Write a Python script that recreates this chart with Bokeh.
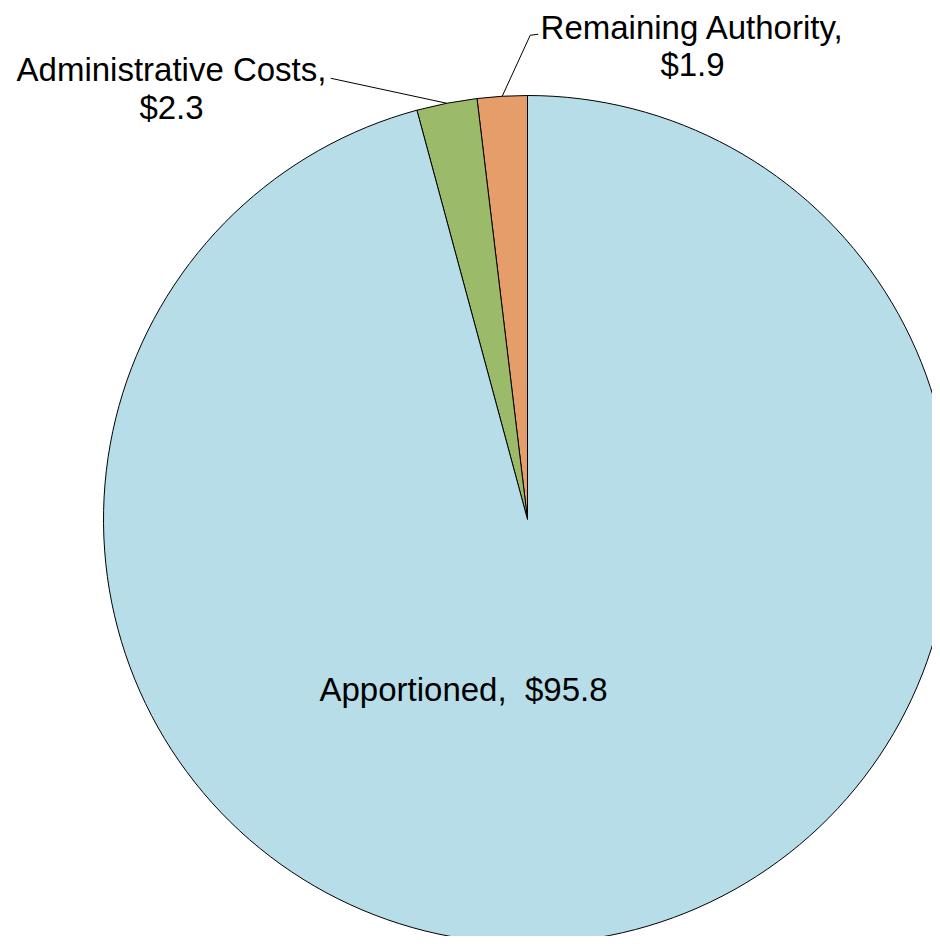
import math
from bokeh.plotting import figure
from bokeh.models import Range1d, ColumnDataSource
from bokeh.core.properties import value
from bokeh.embed import file_html
from bokeh.resources import INLINE

# Data (billions of dollars), counter-clockwise from 12 o'clock
labels = ["Remaining Authority", "Administrative Costs", "Apportioned"]
values = [1.9, 2.3, 95.8]
colors = ["#E59D6A", "#9BBB6A", "#B7DDE8"]

W, H = 932, 936
cx, cy, r = 527, 417, 424

total = sum(values)
starts, ends, mids = [], [], []
a = math.pi / 2
for v in values:
    sweep = 2 * math.pi * v / total
    starts.append(a)
    ends.append(a + sweep)
    mids.append(a + sweep / 2)
    a += sweep

p = figure(width=W, height=H, x_range=Range1d(0, W), y_range=Range1d(0, H),
           output_backend="svg", toolbar_location=None,
           x_axis_type=None, y_axis_type=None, min_border=0)
p.grid.visible = False
p.outline_line_color = None
p.background_fill_color = "white"
p.border_fill_color = "white"

src = ColumnDataSource(dict(start=starts, end=ends, color=colors, label=labels, val=values))
p.wedge(x=cx, y=cy, radius=r, start_angle="start", end_angle="end",
        fill_color="color", line_color="black", line_width=1, source=src)

font = value("Liberation Sans")
fs = "33px"

def fmt(v):
    return "$%.1f" % v

# Remaining Authority label with leader
m = mids[0]
px, py = cx + r * math.cos(m), cy + r * math.sin(m)
p.line([px, px + 28, px + 36], [py, py + 61, py + 62], line_color="black", line_width=1)
p.text(x=[692, 692], y=[909, 872], text=[labels[0] + ",", fmt(values[0])],
       text_font=font, text_font_size=fs, text_align="center",
       text_baseline="alphabetic", text_color="black")

# Administrative Costs label with leader
m = mids[1]
px, py = cx + r * math.cos(m), cy + r * math.sin(m)
p.line([px, px - 116], [py, py + 25], line_color="black", line_width=1)
p.text(x=[171, 171], y=[867, 829], text=[labels[1] + ",", fmt(values[1])],
       text_font=font, text_font_size=fs, text_align="center",
       text_baseline="alphabetic", text_color="black")

# Apportioned label inside
p.text(x=[463], y=[247], text=[labels[2] + ",\u00a0 " + fmt(values[2])],
       text_font=font, text_font_size=fs, text_align="center",
       text_baseline="alphabetic", text_color="black")

open("out.html", "w").write(file_html(p, INLINE))
